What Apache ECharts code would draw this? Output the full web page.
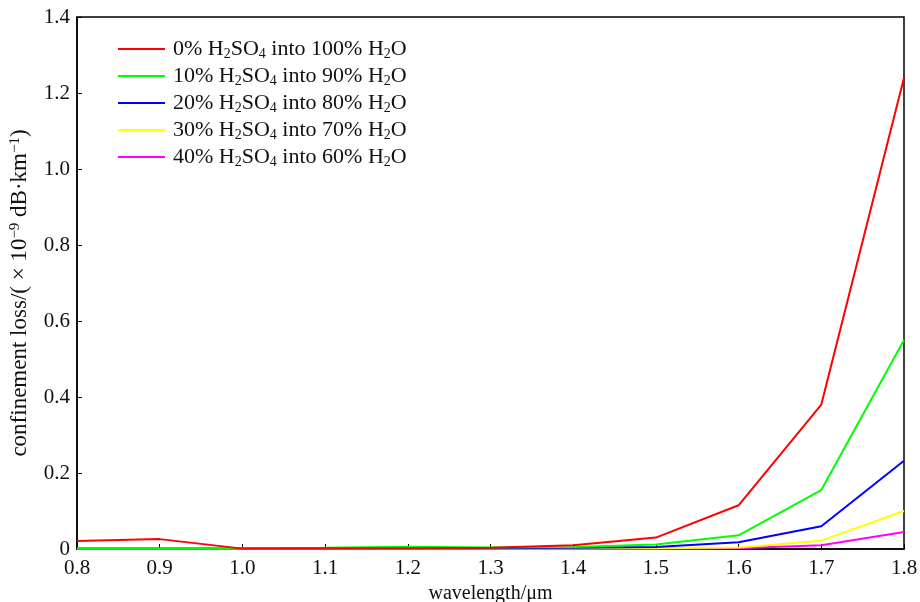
<!DOCTYPE html>
<html>
<head>
<meta charset="utf-8">
<script src="https://cdn.jsdelivr.net/npm/echarts@6/dist/echarts.min.js"></script>
<style>html,body{margin:0;padding:0;background:#fff}#c{width:920px;height:602px}</style>
</head>
<body>
<div id="c"></div>
<script>
const wavelengths = [0.8, 0.9, 1.0, 1.1, 1.2, 1.3, 1.4, 1.5, 1.6, 1.7, 1.8];
const s0 = [0.021, 0.026, 0.001, 0.002, 0.002, 0.003, 0.010, 0.030, 0.115, 0.380, 1.240];
const s10 = [0.002, 0.002, 0.002, 0.003, 0.006, 0.004, 0.005, 0.012, 0.036, 0.155, 0.550];
const s20 = [0.001, 0.001, 0.001, 0.001, 0.002, 0.002, 0.003, 0.005, 0.018, 0.060, 0.232];
const s30 = [0.000, 0.000, 0.000, 0.000, 0.001, 0.001, 0.001, 0.002, 0.004, 0.022, 0.100];
const s40 = [0.000, 0.000, 0.000, 0.000, 0.000, 0.000, 0.001, 0.001, 0.002, 0.010, 0.045];
const seriesNames = ['0% H2SO4 into 100% H2O','10% H2SO4 into 90% H2O','20% H2SO4 into 80% H2O','30% H2SO4 into 70% H2O','40% H2SO4 into 60% H2O'];
const legendRich = ['0% H{s|2}SO{s|4} into 100% H{s|2}O','10% H{s|2}SO{s|4} into 90% H{s|2}O','20% H{s|2}SO{s|4} into 80% H{s|2}O','30% H{s|2}SO{s|4} into 70% H{s|2}O','40% H{s|2}SO{s|4} into 60% H{s|2}O'];
const colors = ['#ff0000','#00ff00','#0000ff','#ffff00','#ff00ff'];
const allData = [s0, s10, s20, s30, s40];

const font = 'Liberation Serif';
const chart = echarts.init(document.getElementById('c'));
chart.setOption({
  animation: false,
  grid: {left: 77, right: 16, top: 17, bottom: 53, outerBoundsMode: 'none', containLabel: false,
    show: true, borderColor: '#000', borderWidth: 1.5, backgroundColor: 'transparent'},
  legend: {
    orient: 'vertical', left: 113, top: 31, itemWidth: 47, itemHeight: 2, itemGap: 2, icon: 'rect',
    data: seriesNames,
    formatter: function(n){ return legendRich[seriesNames.indexOf(n)]; },
    textStyle: {fontFamily: font, fontSize: 22, color: '#111', lineHeight: 24, padding: [0,0,0,3],
      rich: {s: {fontFamily: font, fontSize: 14, lineHeight: 12, verticalAlign: 'bottom', padding: [11,0,0,0]}}}
  },
  xAxis: {
    type: 'value', min: 0.8, max: 1.8, interval: 0.1,
    name: 'wavelength/μm', nameLocation: 'middle', nameGap: 31,
    nameTextStyle: {fontFamily: font, fontSize: 20, color: '#111'},
    axisLine: {lineStyle: {color: '#000', width: 1.5}},
    axisTick: {inside: true, length: 5, lineStyle: {color: '#000'}},
    axisLabel: {fontFamily: font, fontSize: 21, color: '#111', margin: 9, formatter: v => (+v).toFixed(1)},
    splitLine: {show: false}
  },
  yAxis: {
    type: 'value', min: 0, max: 1.4, interval: 0.2,
    name: 'confinement loss/( × 10{p|−9} dB·km{p|−1})', nameLocation: 'middle', nameGap: 44, nameRotate: 90,
    nameTextStyle: {fontFamily: font, fontSize: 23, color: '#111', lineHeight: 24, padding: [0,20,0,0],
      rich: {p: {fontFamily: font, fontSize: 15, lineHeight: 12, verticalAlign: 'top', padding: [0,0,10,0]}}},
    axisLine: {lineStyle: {color: '#000', width: 1.5}},
    axisTick: {inside: true, length: 5, lineStyle: {color: '#000'}},
    axisLabel: {fontFamily: font, fontSize: 21, color: '#111', margin: 7, formatter: v => v === 0 ? '0' : (+v).toFixed(1)},
    splitLine: {show: false}
  },
  series: allData.map((d, i) => ({
    name: seriesNames[i], type: 'line', symbol: 'none', z: 10 - i,
    lineStyle: {color: colors[i], width: 2}, itemStyle: {color: colors[i]},
    data: wavelengths.map((w, j) => [w, d[j]])
  }))
});
</script>
</body>
</html>
